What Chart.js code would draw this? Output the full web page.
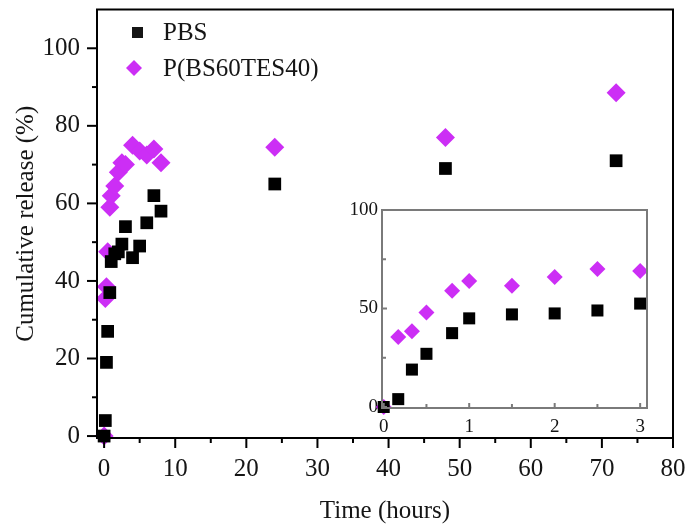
<!DOCTYPE html>
<html>
<head>
<meta charset="utf-8">
<script src="https://cdn.jsdelivr.net/npm/chart.js@4/dist/chart.umd.min.js"></script>
<style>
	body { margin: 0; background: #fff; }
	#wrap { position: relative; width: 686px; height: 528px; }
	#main { position: absolute; left: 0; top: 0; }
	#inset { position: absolute; left: 330px; top: 190px; }
</style>
</head>
<body>
<div id="wrap">
	<canvas id="main" width="686" height="528"></canvas>
	<canvas id="inset" width="340" height="250"></canvas>
</div>
<script>
// main plot, 0 - 72 h
const hours = [0, 0.17, 0.33, 0.5, 0.8, 1, 1.5, 2, 2.5, 3, 4, 5, 6, 7, 8, 24, 48, 72];
const pbs = [0, 4, 19, 27, 37, 45, 47, 47.5, 49.5, 54, 46, 49, 55, 62, 58, 65, 69, 71];
const copoly = [0, 35.5, 38.5, 47.5, 59, 62, 64.5, 68, 70.5, 70, 75, 73.5, 72.5, 74, 70.5, 74.5, 77, 88.5];

// inset, first 3 h
const insetHours = [0, 0.17, 0.33, 0.5, 0.8, 1, 1.5, 2, 2.5, 3];
const insetPbs = [0, 4, 19, 27, 37.5, 45, 47, 47.5, 49, 52.5];
const insetCopoly = [0, 35.5, 38.5, 48, 59, 64, 61.5, 66, 70, 69];

const xTicks = [0, 10, 20, 30, 40, 50, 60, 70, 80];
const yTicks = [0, 20, 40, 60, 80, 100];
const insetXTicks = [0, 1, 2, 3];
const insetYTicks = [0, 50, 100];

const labels = ["PBS", "P(BS60TES40)"];
const purple = "#cc2ef5";
const ink = "#151515";
const serif = "'Liberation Serif', 'Times New Roman', serif";

const pts = (xs, ys) => xs.map((x, i) => ({ x, y: ys[i] }));
const setTicks = (vals) => (scale) => {
	scale.ticks = vals.map((v) => ({ value: v }));
};
// fixed axis box, no extra label padding so the plot area lands where we want
const fixSize = (size) => (scale) => {
	if (scale.isHorizontal()) scale.height = size;
	else scale.width = size;
	scale.paddingTop = 0;
	scale.paddingBottom = 0;
	scale.paddingLeft = 0;
	scale.paddingRight = 0;
};

// frame + tick marks (major on the values, minor halfway)
const frameTicks = {
	id: "frameTicks",
	afterDraw(chart, args, opts) {
		const { ctx, chartArea: a, scales } = chart;
		ctx.save();
		ctx.lineWidth = opts.width;
		ctx.strokeStyle = opts.color;
		ctx.strokeRect(a.left, a.top, a.right - a.left, a.bottom - a.top);
		const s = opts.dir;
		const mark = (scale, v, len) => {
			const p = scale.getPixelForValue(v);
			ctx.beginPath();
			if (scale.isHorizontal()) {
				ctx.moveTo(p, a.bottom);
				ctx.lineTo(p, a.bottom + s * len);
			} else {
				ctx.moveTo(a.left, p);
				ctx.lineTo(a.left - s * len, p);
			}
			ctx.stroke();
		};
		[scales.x, scales.y].forEach((scale) => {
			const vals = scale.ticks.map((t) => t.value);
			vals.forEach((v, i) => {
				mark(scale, v, opts.major);
				if (i < vals.length - 1) mark(scale, (v + vals[i + 1]) / 2, opts.minor);
			});
		});
		ctx.restore();
	},
};

const innerLegend = {
	id: "innerLegend",
	afterDraw(chart) {
		const { ctx } = chart;
		ctx.save();
		ctx.font = "25px " + serif;
		ctx.textBaseline = "middle";
		ctx.fillStyle = ink;
		ctx.fillRect(132, 27, 11, 11);
		ctx.fillText(chart.data.datasets[0].label, 163, 33);
		ctx.fillStyle = purple;
		ctx.beginPath();
		ctx.moveTo(134, 60);
		ctx.lineTo(142, 68);
		ctx.lineTo(134, 76);
		ctx.lineTo(126, 68);
		ctx.closePath();
		ctx.fill();
		ctx.fillStyle = ink;
		ctx.fillText(chart.data.datasets[1].label, 163, 69);
		ctx.restore();
	},
};

const axisFont = { family: serif, size: 25 };
const noGrid = { display: false, drawTicks: false };

new Chart(document.getElementById("main"), {
	type: "scatter",
	data: {
		datasets: [
			{
				label: labels[0],
				data: pts(hours, pbs),
				pointStyle: "rect",
				pointRadius: 9,
				backgroundColor: "#000",
				borderWidth: 0,
				clip: false,
			},
			{
				label: labels[1],
				data: pts(hours, copoly),
				pointStyle: "rectRot",
				pointRadius: 9.5,
				backgroundColor: purple,
				borderWidth: 0,
				clip: false,
			},
		],
	},
	options: {
		responsive: false,
		animation: false,
		events: [],
		layout: { padding: { top: 8, right: 13, left: 0, bottom: 0 } },
		plugins: {
			legend: { display: false },
			tooltip: { enabled: false },
			frameTicks: { width: 2, color: "#000", dir: 1, major: 10, minor: 5 },
		},
		scales: {
			x: {
				type: "linear",
				min: -1,
				max: 80,
				afterBuildTicks: setTicks(xTicks),
				afterFit: fixSize(90),
				grid: noGrid,
				border: { display: false },
				ticks: { autoSkip: false, maxRotation: 0, padding: 16, color: ink, font: axisFont },
				title: { display: true, text: "Time (hours)", color: ink, font: axisFont, padding: { top: 0, bottom: 2 } },
			},
			y: {
				type: "linear",
				min: -0.5,
				max: 110,
				afterBuildTicks: setTicks(yTicks),
				afterFit: fixSize(97),
				grid: noGrid,
				border: { display: false },
				ticks: { autoSkip: false, padding: 17, color: ink, font: axisFont },
				title: { display: true, text: "Cumulative release (%)", color: ink, font: axisFont, padding: { top: 11, bottom: 0 } },
			},
		},
	},
	plugins: [frameTicks, innerLegend],
});

const insetFont = { family: serif, size: 19 };

new Chart(document.getElementById("inset"), {
	type: "scatter",
	data: {
		datasets: [
			{
				label: labels[0],
				data: pts(insetHours, insetPbs),
				pointStyle: "rect",
				pointRadius: 8.5,
				backgroundColor: "#000",
				borderWidth: 0,
				clip: false,
			},
			{
				label: labels[1],
				data: pts(insetHours, insetCopoly),
				pointStyle: "rectRot",
				pointRadius: 8,
				backgroundColor: purple,
				borderWidth: 0,
				clip: false,
			},
		],
	},
	options: {
		responsive: false,
		animation: false,
		events: [],
		layout: { padding: { top: 20, right: 23, left: 0, bottom: 0 } },
		plugins: {
			legend: { display: false },
			tooltip: { enabled: false },
			frameTicks: { width: 2, color: "#7a7a7a", dir: -1, major: 5, minor: 4 },
		},
		scales: {
			x: {
				type: "linear",
				min: -0.02,
				max: 3.08,
				afterBuildTicks: setTicks(insetXTicks),
				afterFit: fixSize(32),
				grid: noGrid,
				border: { display: false },
				ticks: { autoSkip: false, maxRotation: 0, padding: 8, color: ink, font: insetFont },
			},
			y: {
				type: "linear",
				min: -0.5,
				max: 100,
				afterBuildTicks: setTicks(insetYTicks),
				afterFit: fixSize(52),
				grid: noGrid,
				border: { display: false },
				ticks: { autoSkip: false, padding: 4, color: ink, font: insetFont },
			},
		},
	},
	plugins: [frameTicks],
});
</script>
</body>
</html>
